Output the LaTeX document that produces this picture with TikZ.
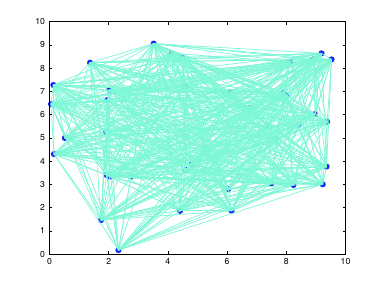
\documentclass[tikz,border=0pt]{standalone}
\usepackage{fontspec}
\setmainfont{TeX Gyre Heros}
\definecolor{edgecol}{RGB}{125,247,214}
\definecolor{dotblue}{RGB}{20,40,250}
\tikzset{
  edge/.style={draw=edgecol, line width=0.55pt},
  vertex/.style={fill=dotblue},
  tick/.style={line width=0.4pt},
  ticklabel/.style={font=\fontsize{6.5}{7}\selectfont, inner sep=1pt}
}
\begin{document}
\begin{tikzpicture}[x=22.2pt, y=17.44pt, line width=0.4pt]
  \useasboundingbox (-1.672,-1.419) rectangle (11.233,10.925);
  % vertices
  \foreach \n/\x/\y in {1/2.33/0.17, 2/1.74/1.46, 3/0.15/4.30, 4/0.52/4.99,
      5/0.05/6.45, 6/0.13/7.27, 7/1.37/8.23, 8/3.52/9.05, 9/4.13/8.63,
      10/4.47/8.46, 11/2.02/7.05, 12/1.95/6.62, 13/1.91/5.26, 14/4.60/7.20,
      15/9.19/8.63, 16/9.53/8.37, 17/8.12/8.27, 18/8.91/8.37, 19/7.90/6.94,
      20/8.01/6.80, 21/6.07/6.95, 22/6.77/6.27, 23/8.97/6.02, 24/9.38/5.69,
      25/7.38/5.51, 26/8.41/5.55, 27/5.25/4.56, 28/9.36/3.76, 29/9.23/3.00,
      30/8.24/2.97, 31/7.50/3.04, 32/6.04/2.80, 33/6.15/1.86, 34/4.41/1.86,
      35/4.60/3.62, 36/1.93/3.40, 37/2.04/3.33, 38/2.75/3.33, 39/4.80/3.85,
      40/7.63/4.90}
    \coordinate (p\n) at (\x,\y);
  \foreach \n in {1,...,40}
    \fill[vertex] (p\n) circle (2.3pt);
  % edges
  \pgfmathsetseed{4711}
  \foreach \i in {1,...,39}{
    \pgfmathtruncatemacro\jstart{\i+1}
    \foreach \j in {\jstart,...,40}{
      \pgfmathparse{rnd<0.75 ? 1 : 0}
      \ifnum\pgfmathresult=1
        \draw[edge] (p\i) -- (p\j);
      \fi
    }
  }
  % axes
  \draw (0,0) rectangle (10,10);
  \foreach \t in {0,2,...,10}{
    \draw[tick] (\t,0) -- (\t,0.13);
    \draw[tick] (\t,10) -- (\t,9.87);
    \node[ticklabel, below] (xl\t) at (\t,-0.12) {\t};
  }
  \foreach \t in {0,...,10}{
    \draw[tick] (0,\t) -- (0.1,\t);
    \draw[tick] (10,\t) -- (9.9,\t);
    \node[ticklabel, left] (yl\t) at (-0.1,\t) {\t};
  }
\end{tikzpicture}
\end{document}
